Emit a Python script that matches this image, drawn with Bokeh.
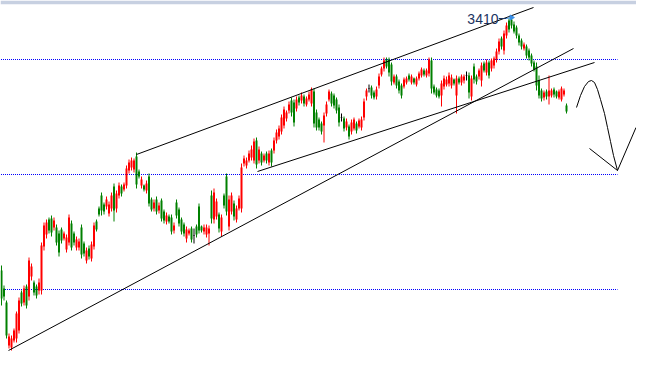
from bokeh.plotting import figure
from bokeh.models import ColumnDataSource
from bokeh.core.properties import value
from bokeh.embed import file_html
from bokeh.resources import INLINE

# ---- candle data (index = trading day, prices) ----
opens = [3157,3139,3125,3082,3080,3087,3089,3097,3135,3125,3141,3131,3151,3145,3141,3137,3137,3181,3193,3208,
         3209,3200,3200,3194,3198,3189,3178,3185,3204,3194,3180,3180,3200,3184,3167,3179,3169,3181,3206,3219,
         3232,3223,3221,3214,3219,3241,3219,3232,3241,3238,3242,3257,3260,3258,3271,3256,3242,3242,3237,3251,
         3228,3219,3228,3217,3227,3216,3206,3211,3210,3197,3225,3218,3208,3203,3189,3194,3199,3192,3201,3221,
         3201,3196,3193,3194,3232,3208,3211,3213,3196,3232,3251,3201,3216,3224,3208,3219,3219,3264,3262,3267,
         3270,3267,3287,3267,3274,3267,3274,3265,3277,3277,3287,3291,3296,3302,3309,3317,3327,3325,3319,3330,
         3327,3331,3323,3328,3324,3336,3315,3308,3304,3302,3314,3328,3334,3332,3328,3320,3310,3309,3300,3301,
         3296,3299,3304,3301,3300,3310,3331,3339,3340,3335,3331,3342,3353,3359,3368,3368,3363,3345,3351,3346,
         3342,3341,3345,3352,3345,3349,3343,3349,3352,3357,3352,3354,3367,3341,3338,3337,3332,3341,3343,3344,
         3342,3348,3332,3349,3345,3347,3352,3352,3331,3361,3351,3351,3347,3364,3355,3365,3359,3362,3368,3376,
         3389,3377,3392,3407,3408,3403,3400,3392,3387,3379,3381,3377,3372,3365,3361,3347,3337,3330,3336,3331,
         3332,3338,3336,3330,3328,3333,3322]
highs = [3162,3142,3127,3094,3092,3099,3116,3130,3137,3142,3143,3170,3164,3147,3143,3149,3185,3205,3208,3210,
         3212,3210,3203,3197,3200,3196,3193,3213,3207,3196,3191,3189,3203,3186,3180,3182,3186,3205,3208,3221,
         3235,3225,3231,3226,3235,3244,3237,3245,3243,3245,3262,3268,3270,3269,3275,3258,3251,3243,3247,3254,
         3230,3228,3231,3225,3229,3218,3215,3213,3213,3205,3228,3220,3210,3205,3201,3199,3201,3199,3203,3224,
         3202,3203,3203,3202,3237,3239,3229,3215,3213,3234,3254,3232,3235,3227,3222,3232,3264,3272,3270,3277,
         3282,3289,3290,3281,3276,3274,3276,3277,3279,3290,3298,3302,3313,3321,3317,3326,3330,3328,3331,3332,
         3335,3333,3331,3336,3340,3339,3318,3310,3306,3315,3326,3338,3336,3334,3330,3323,3314,3311,3309,3303,
         3308,3310,3306,3309,3311,3329,3339,3343,3342,3337,3341,3354,3361,3370,3370,3370,3365,3353,3353,3348,
         3344,3350,3351,3354,3353,3350,3351,3356,3360,3359,3359,3370,3370,3343,3340,3339,3347,3352,3351,3355,
         3353,3349,3352,3351,3353,3353,3356,3355,3352,3364,3353,3359,3365,3366,3368,3367,3369,3371,3379,3389,
         3391,3397,3405,3409,3410,3406,3402,3394,3389,3385,3383,3379,3374,3367,3365,3352,3339,3337,3338,3352,
         3339,3340,3337,3338,3341,3339,3324]
lows = [3122,3127,3089,3079,3077,3085,3085,3094,3121,3122,3119,3127,3147,3132,3129,3133,3133,3177,3189,3194,
        3191,3197,3182,3171,3184,3187,3175,3182,3177,3182,3177,3177,3169,3171,3164,3168,3166,3178,3196,3211,
        3212,3213,3218,3211,3216,3206,3215,3229,3231,3236,3239,3254,3257,3255,3239,3249,3239,3236,3234,3221,
        3216,3216,3213,3214,3206,3204,3203,3204,3193,3194,3209,3201,3193,3191,3185,3192,3185,3184,3190,3194,
        3195,3193,3190,3182,3204,3204,3208,3195,3191,3219,3212,3197,3213,3207,3205,3217,3215,3261,3259,3265,
        3267,3264,3259,3264,3262,3265,3264,3262,3261,3274,3284,3288,3293,3299,3306,3314,3311,3301,3316,3322,
        3324,3321,3321,3326,3321,3300,3297,3297,3293,3285,3311,3326,3321,3319,3314,3301,3306,3296,3297,3288,
        3293,3297,3294,3299,3297,3307,3327,3335,3329,3328,3328,3339,3351,3356,3359,3351,3342,3343,3339,3334,
        3329,3339,3343,3346,3343,3343,3341,3347,3350,3351,3350,3351,3334,3333,3330,3329,3321,3338,3341,3341,
        3339,3342,3314,3343,3342,3344,3347,3329,3327,3344,3343,3348,3341,3355,3352,3349,3356,3359,3365,3373,
        3378,3373,3389,3395,3399,3394,3389,3382,3378,3377,3369,3367,3361,3356,3337,3329,3326,3327,3328,3323,
        3330,3330,3329,3328,3326,3331,3314]
closes = [3129,3131,3092,3091,3089,3097,3114,3127,3124,3139,3122,3167,3161,3135,3132,3145,3182,3202,3205,3197,
          3195,3207,3185,3175,3187,3194,3190,3210,3180,3185,3188,3186,3173,3174,3177,3171,3183,3202,3198,3213,
          3217,3216,3228,3223,3232,3217,3234,3242,3234,3243,3259,3265,3267,3267,3243,3251,3248,3238,3244,3224,
          3218,3225,3216,3222,3209,3207,3212,3206,3196,3202,3212,3204,3196,3194,3198,3197,3188,3192,3193,3197,
          3197,3200,3200,3199,3209,3235,3226,3199,3210,3222,3216,3228,3232,3211,3219,3229,3260,3269,3267,3274,
          3278,3286,3263,3278,3265,3272,3267,3274,3265,3287,3295,3299,3310,3318,3315,3323,3315,3305,3328,3325,
          3332,3324,3329,3333,3338,3304,3300,3300,3296,3312,3323,3336,3324,3322,3317,3305,3310,3299,3306,3291,
          3305,3308,3297,3307,3308,3326,3337,3339,3332,3330,3338,3351,3359,3367,3361,3355,3346,3351,3342,3337,
          3332,3348,3349,3348,3351,3345,3349,3354,3358,3353,3357,3368,3339,3335,3332,3331,3344,3349,3348,3352,
          3350,3344,3349,3345,3351,3351,3352,3335,3349,3348,3346,3357,3362,3357,3365,3352,3367,3369,3376,3386,
          3381,3394,3402,3398,3402,3396,3392,3385,3381,3383,3372,3370,3364,3358,3342,3332,3329,3335,3331,3337,
          3337,3333,3331,3336,3339,3337,3316]

# ---- reference levels, trend lines and the drawn arrow ----
level_prices = [3368, 3253, 3138]
level_start = [-0.2, -0.2, -0.2]
level_end = [246.4, 246.4, 246.4]

trend_x0 = [2.8, 54.0, 102.4]
trend_y0 = [3077, 3273, 3256]
trend_x1 = [228.8, 212.8, 237.2]
trend_y1 = [3379, 3420, 3365]

arrow_idx = [230.0, 231.6, 233.2, 234.8, 236.0, 237.2, 238.4, 239.6, 241.2, 242.4, 243.6, 244.8, 246.4]
arrow_price = [3320, 3332, 3341, 3346, 3347, 3345, 3338, 3328, 3314, 3300, 3286, 3272, 3257]
wing_x0 = [235.2, 246.4]
wing_y0 = [3279, 3257]
wing_x1 = [246.4, 253.8]
wing_y1 = [3257, 3300]

peak_label = "3410"
peak_idx = 204
peak_price = 3410

n = len(opens)
idx = list(range(n))
colors = []
for o, c in zip(opens, closes):
    if c > o:
        colors.append("#ff0000")
    elif c < o:
        colors.append("#008000")
    else:
        colors.append("#000000")
tops = [max(o, c) for o, c in zip(opens, closes)]
bots = [min(o, c) if o != c else min(o, c) - 0.6 for o, c in zip(opens, closes)]

src = ColumnDataSource(dict(idx=idx, high=highs, low=lows, top=tops, bot=bots, color=colors))

p = figure(width=636, height=374, x_range=(-0.4, 254.0), y_range=(3053.0, 3423.0),
           toolbar_location=None, output_backend="svg",
           x_axis_location=None, y_axis_location=None,
           min_border_left=0, min_border_right=0, min_border_bottom=0, min_border_top=4,
           border_fill_color="#c7d0e1", background_fill_color="white")
p.grid.visible = False
p.outline_line_color = None

# dotted horizontal levels
p.segment(x0=level_start, y0=level_prices, x1=level_end, y1=level_prices,
          line_color="#0000ff", line_width=1, line_dash="1 1")

# candles
p.segment(x0="idx", y0="low", x1="idx", y1="high", line_color="color", line_width=1, source=src)
p.vbar(x="idx", top="top", bottom="bot", width=0.8, fill_color="color", line_color=None, source=src)

# trend lines
p.segment(x0=trend_x0, y0=trend_y0, x1=trend_x1, y1=trend_y1, line_color="black", line_width=1)

# hand drawn arrow
p.line(x=arrow_idx, y=arrow_price, line_color="black", line_width=1)
p.segment(x0=wing_x0, y0=wing_y0, x1=wing_x1, y1=wing_y1, line_color="black", line_width=1)

# peak label
p.text(x=[peak_idx - 5.2], y=[peak_price - 1], text=[peak_label], text_align="right", text_baseline="middle",
       text_font=value("Liberation Sans"), text_font_size="14px", text_color="#1b335f")
p.segment(x0=[peak_idx - 5.1], y0=[peak_price - 1], x1=[peak_idx - 2.2], y1=[peak_price - 1],
          line_color="#1b335f", line_width=1)
p.segment(x0=[peak_idx - 2.2], y0=[peak_price - 1], x1=[peak_idx], y1=[peak_price],
          line_color="#3a8ee6", line_width=1)
p.scatter(x=[peak_idx], y=[peak_price], marker="triangle", angle=-1.5708, size=5,
          fill_color="#3a8ee6", line_color="#3a8ee6")

open("out.html", "w").write(file_html(p, INLINE))
